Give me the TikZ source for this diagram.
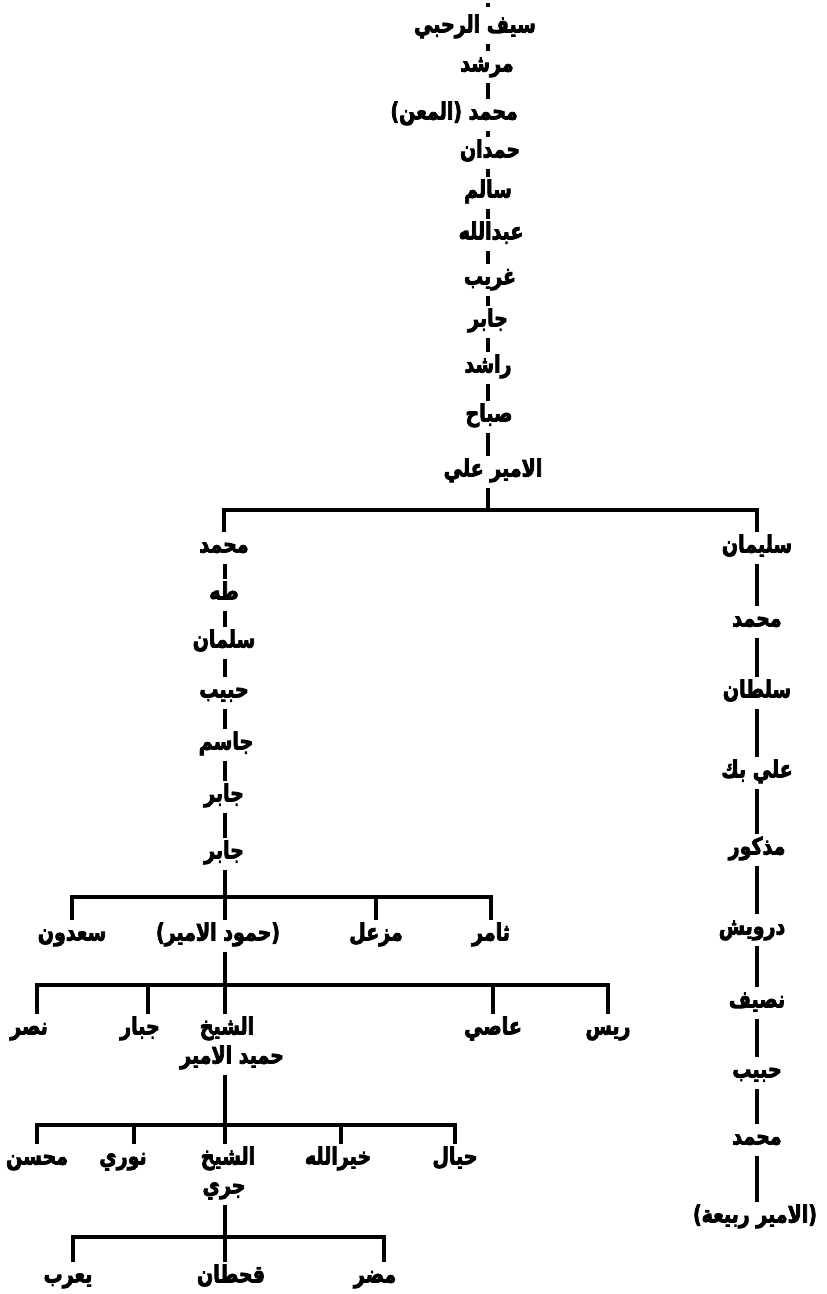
\documentclass[tikz,border=0pt]{standalone}
\usepackage{fontspec}
\usepackage{graphicx}
\newfontfamily\arfont[Script=Arabic]{DejaVu Sans Bold}
\TeXXeTstate=1
\newcommand{\ar}[1]{\special{pdf:literal direct 2 Tr 0.7 w}\scalebox{1}[1.25]{\beginR #1\endR}\special{pdf:literal direct 0 Tr}}
\begin{document}
\begin{tikzpicture}[x=1pt,y=-1pt,
  nm/.style={font=\arfont\fontsize{19}{22}\selectfont, inner xsep=2pt, inner ysep=5pt, text height=15pt, text depth=6pt},
  ln/.style={line width=3.4pt}]
\fill[white] (0,0) rectangle (827,1294);
\useasboundingbox (0,0) rectangle (827,1294);
\coordinate (spine) at (488,0);
\coordinate (lsp) at (225,0);
\coordinate (dot) at (488,3);
\coordinate (dotb) at (488,7);
% top chain
\node[nm] (t1) at (475,28) {\ar{سيف الرحبي}};
\node[nm] (t2) at (487,67) {\ar{مرشد}};
\node[nm,anchor=east] (t3) at (520,115) {\ar{محمد (المعن)}};
\node[nm] (t4) at (490,153) {\ar{حمدان}};
\node[nm] (t5) at (488,193) {\ar{سالم}};
\node[nm] (t6) at (491,235) {\ar{عبدالله}};
\node[nm] (t7) at (490,280) {\ar{غريب}};
\node[nm] (t8) at (488,322) {\ar{جابر}};
\node[nm] (t9) at (488,368) {\ar{راشد}};
\node[nm] (t10) at (489,417) {\ar{صباح}};
\node[nm] (amir) at (493,472) {\ar{الامير علي}};
\draw[ln] (dot) -- (dotb);
\foreach \a/\b in {t1/t2,t2/t3,t3/t4,t4/t5,t5/t6,t6/t7,t7/t8,t8/t9,t9/t10,t10/amir}
  \draw[ln] (\a.south -| spine) -- (\b.north -| spine);
% bar A
\coordinate (barA) at (0,510);
\node[nm] (l1) at (224,548) {\ar{محمد}};
\node[nm] (l2) at (224,595) {\ar{طه}};
\node[nm] (l3) at (224,643) {\ar{سلمان}};
\node[nm] (l4) at (224,693) {\ar{حبيب}};
\node[nm] (l5) at (226,745) {\ar{جاسم}};
\node[nm] (l6) at (224,797) {\ar{جابر}};
\node[nm] (l7) at (224,854) {\ar{جابر}};
\node[nm] (r1) at (757,548) {\ar{سليمان}};
\node[nm] (r2) at (757,622) {\ar{محمد}};
\node[nm] (r3) at (757,693) {\ar{سلطان}};
\node[nm] (r4) at (757,773) {\ar{علي بك}};
\node[nm] (r5) at (757,850) {\ar{مذكور}};
\node[nm] (r6) at (752,930) {\ar{درويش}};
\node[nm] (r7) at (757,1003) {\ar{نصيف}};
\node[nm] (r8) at (757,1073) {\ar{حبيب}};
\node[nm] (r9) at (757,1140) {\ar{محمد}};
\node[nm] (r10) at (755,1218) {\ar{(الامير ربيعة)}};
\draw[ln] (amir.south -| spine) -- (spine |- barA);
\draw[ln] (l1.north) -- (l1.north |- barA) -- (r1.north |- barA) -- (r1.north);
\foreach \a/\b in {l1/l2,l2/l3,l3/l4,l4/l5,l5/l6,l6/l7}
  \draw[ln] (\a.south -| lsp) -- (\b.north -| lsp);
\foreach \a/\b in {r1/r2,r2/r3,r3/r4,r4/r5,r5/r6,r6/r7,r7/r8,r8/r9,r9/r10}
  \draw[ln] (\a.south -| r1) -- (\b.north -| r1);
% bar B
\coordinate (barB) at (0,897);
\node[nm] (saad) at (72,936) {\ar{سعدون}};
\node[nm] (hmd) at (218,936) {\ar{(حمود الامير)}};
\node[nm] (mzl) at (376,936) {\ar{مزعل}};
\node[nm] (thm) at (491,936) {\ar{ثامر}};
\draw[ln] (l7.south -| lsp) -- (lsp |- barB);
\draw[ln] (saad.north) -- (saad.north |- barB) -- (thm.north |- barB) -- (thm.north);
\draw[ln] (mzl.north) -- (mzl.north |- barB);
\draw[ln] (hmd.north -| lsp) -- (lsp |- barB);
% bar C
\coordinate (barC) at (0,985);
\node[nm] (nasr) at (29,1030) {\ar{نصر}};
\node[nm] (jab) at (140,1030) {\ar{جبار}};
\node[nm] (sh1) at (227,1030) {\ar{الشيخ}};
\node[nm] (sh1b) at (232,1059) {\ar{حميد الامير}};
\node[nm] (aasi) at (493,1030) {\ar{عاصي}};
\node[nm] (rees) at (608,1030) {\ar{ريس}};
\coordinate (nasrd) at ([xshift=8pt]nasr.north);
\coordinate (jabd) at ([xshift=8pt]jab.north);
\draw[ln] (hmd.south -| lsp) -- (lsp |- barC);
\draw[ln] (nasrd) -- (nasrd |- barC) -- (rees.north |- barC) -- (rees.north);
\draw[ln] (jabd) -- (jabd |- barC);
\draw[ln] (sh1.north -| lsp) -- (lsp |- barC);
\draw[ln] (aasi.north) -- (aasi.north |- barC);
% bar D
\coordinate (barD) at (0,1125);
\node[nm] (mohs) at (37,1160) {\ar{محسن}};
\node[nm] (nouri) at (123,1160) {\ar{نوري}};
\node[nm] (sh2) at (228,1160) {\ar{الشيخ}};
\node[nm] (jerry) at (224,1189) {\ar{جري}};
\node[nm] (khair) at (338,1160) {\ar{خيرالله}};
\node[nm] (hayal) at (455,1160) {\ar{حيال}};
\coordinate (nourid) at ([xshift=11pt]nouri.north);
\coordinate (khaird) at ([xshift=3pt]khair.north);
\draw[ln] (sh1b.south -| lsp) -- (lsp |- barD);
\draw[ln] (mohs.north) -- (mohs.north |- barD) -- (hayal.north |- barD) -- (hayal.north);
\draw[ln] (nourid) -- (nourid |- barD);
\draw[ln] (khaird) -- (khaird |- barD);
\draw[ln] (sh2.north -| lsp) -- (lsp |- barD);
% bar E
\coordinate (barE) at (0,1237);
\node[nm] (yarub) at (68,1278) {\ar{يعرب}};
\node[nm] (qaht) at (231,1278) {\ar{قحطان}};
\node[nm] (mudar) at (375,1278) {\ar{مضر}};
\coordinate (yarubd) at ([xshift=5pt]yarub.north);
\coordinate (mudard) at ([xshift=9pt]mudar.north);
\draw[ln] (jerry.south -| lsp) -- (lsp |- barE);
\draw[ln] (yarubd) -- (yarubd |- barE) -- (mudard |- barE) -- (mudard);
\draw[ln] (qaht.north -| lsp) -- (lsp |- barE);
\end{tikzpicture}
\end{document}
